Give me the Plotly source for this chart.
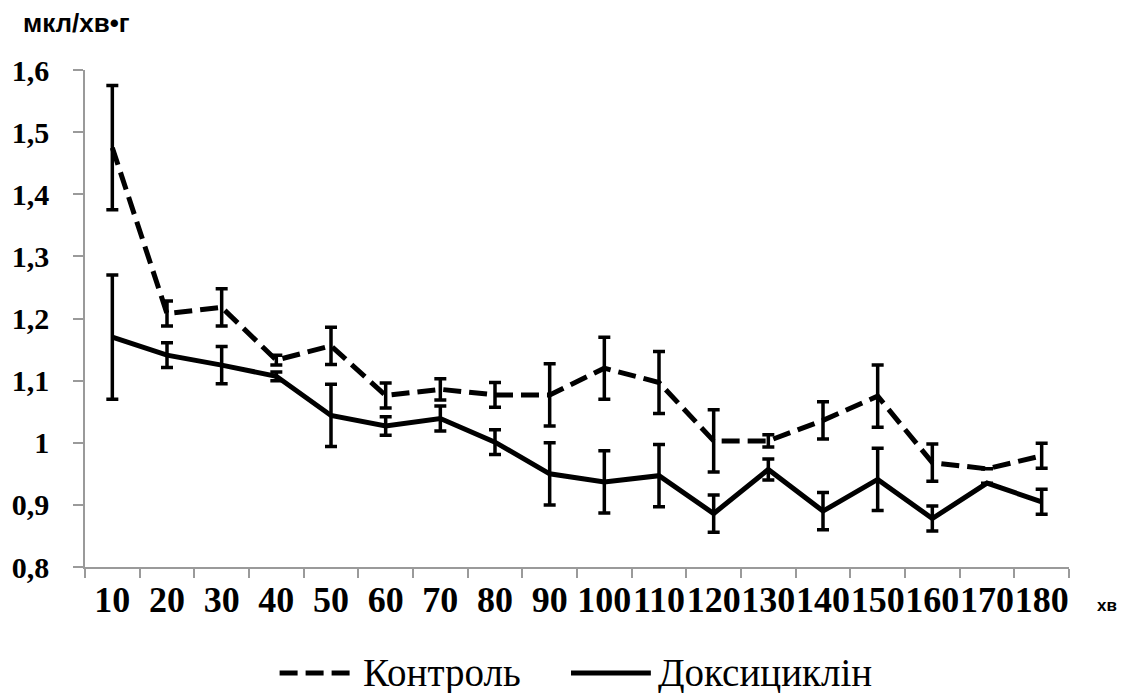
import plotly.graph_objects as go

# Time points, minutes
minutes = [10, 20, 30, 40, 50, 60, 70, 80, 90, 100, 110, 120, 130, 140, 150, 160, 170, 180]
minute_labels = [str(m) for m in minutes]

# Control group: mean and error
control = [1.475, 1.208, 1.218, 1.133, 1.156, 1.076, 1.086, 1.077, 1.077, 1.120, 1.097, 1.003,
           1.003, 1.036, 1.075, 0.968, 0.958, 0.979]
control_err = [0.10, 0.02, 0.03, 0.008, 0.03, 0.02, 0.017, 0.02, 0.05, 0.05, 0.05, 0.05,
               0.01, 0.03, 0.05, 0.03, 0.0, 0.02]

# Doxycycline group: mean and error
doxy = [1.170, 1.141, 1.125, 1.107, 1.044, 1.027, 1.039, 1.001, 0.950, 0.937, 0.947, 0.886,
        0.957, 0.890, 0.941, 0.878, 0.935, 0.905]
doxy_err = [0.10, 0.02, 0.03, 0.007, 0.05, 0.015, 0.02, 0.02, 0.05, 0.05, 0.05, 0.03,
            0.017, 0.03, 0.05, 0.02, 0.0, 0.02]

y_ticks = [0.8, 0.9, 1.0, 1.1, 1.2, 1.3, 1.4, 1.5, 1.6]
y_tick_text = ["0,8", "0,9", "1", "1,1", "1,2", "1,3", "1,4", "1,5", "1,6"]

series_names = ["Контроль", "Доксициклін"]

W, H = 1134, 693
L, R, T, B = 83, 65, 70, 126
PW, PH = W - L - R, H - T - B


def px(x):
    return (x - L) / PW


def py(y):
    return (H - B - y) / PH


AXIS_GRAY = "#9a9a9a"
SERIF = "'Liberation Serif', 'Times New Roman', serif"
SANS = "Liberation Sans"

fig = go.Figure()

fig.add_trace(go.Scatter(
    x=minute_labels, y=control, mode="lines", name=series_names[0],
    line=dict(color="black", width=5, dash="18px,8px"),
    error_y=dict(type="data", array=control_err, visible=True,
                 color="black", thickness=3.5, width=6),
    showlegend=False,
))
fig.add_trace(go.Scatter(
    x=minute_labels, y=doxy, mode="lines", name=series_names[1],
    line=dict(color="black", width=5),
    error_y=dict(type="data", array=doxy_err, visible=True,
                 color="black", thickness=3.5, width=6),
    showlegend=False,
))

# Legend drawn as line samples plus labels below the plot
shapes = [
    dict(type="line", xref="paper", yref="paper", x0=px(278), x1=px(350), y0=py(673), y1=py(673),
         line=dict(color="black", width=5, dash="18px,8px")),
    dict(type="line", xref="paper", yref="paper", x0=px(570), x1=px(650), y0=py(673), y1=py(673),
         line=dict(color="black", width=5)),
]

annotations = [
    dict(text=series_names[0], xref="paper", yref="paper", x=px(360), y=py(673),
         xanchor="left", yanchor="middle", showarrow=False,
         font=dict(family=SERIF, size=39, color="black")),
    dict(text=series_names[1], xref="paper", yref="paper", x=px(655), y=py(673),
         xanchor="left", yanchor="middle", showarrow=False,
         font=dict(family=SERIF, size=39, color="black")),
    dict(text="мкл/хв•г", xref="paper", yref="paper", x=px(19), y=py(23),
         xanchor="left", yanchor="middle", showarrow=False,
         font=dict(family=SANS, size=26, color="black", weight="bold")),
    dict(text="хв", xref="paper", yref="paper", x=px(1107), y=py(605),
         xanchor="center", yanchor="middle", showarrow=False,
         font=dict(family=SANS, size=17, color="black", weight="bold")),
]

fig.update_layout(
    width=W, height=H,
    margin=dict(l=L, r=R, t=T, b=B, pad=0),
    paper_bgcolor="white", plot_bgcolor="white",
    shapes=shapes, annotations=annotations,
    xaxis=dict(
        type="category", tickson="boundaries", ticks="outside", ticklen=9,
        tickcolor=AXIS_GRAY, tickwidth=1.5, showline=True, linecolor=AXIS_GRAY, linewidth=1.5,
        showgrid=False, zeroline=False, tickangle=0,
        tickfont=dict(family=SERIF, size=36, color="black", weight="bold"),
        range=[-0.5, len(minutes) - 0.5],
    ),
    yaxis=dict(
        range=[0.8, 1.6], tickvals=y_ticks, ticktext=y_tick_text,
        ticks="outside", ticklen=10, tickcolor=AXIS_GRAY, tickwidth=1.5,
        showline=True, linecolor=AXIS_GRAY, linewidth=1.5,
        showgrid=False, zeroline=False, ticklabelstandoff=18,
        tickfont=dict(family=SERIF, size=30, color="black", weight="bold"),
    ),
)

fig.write_html("out.html")
